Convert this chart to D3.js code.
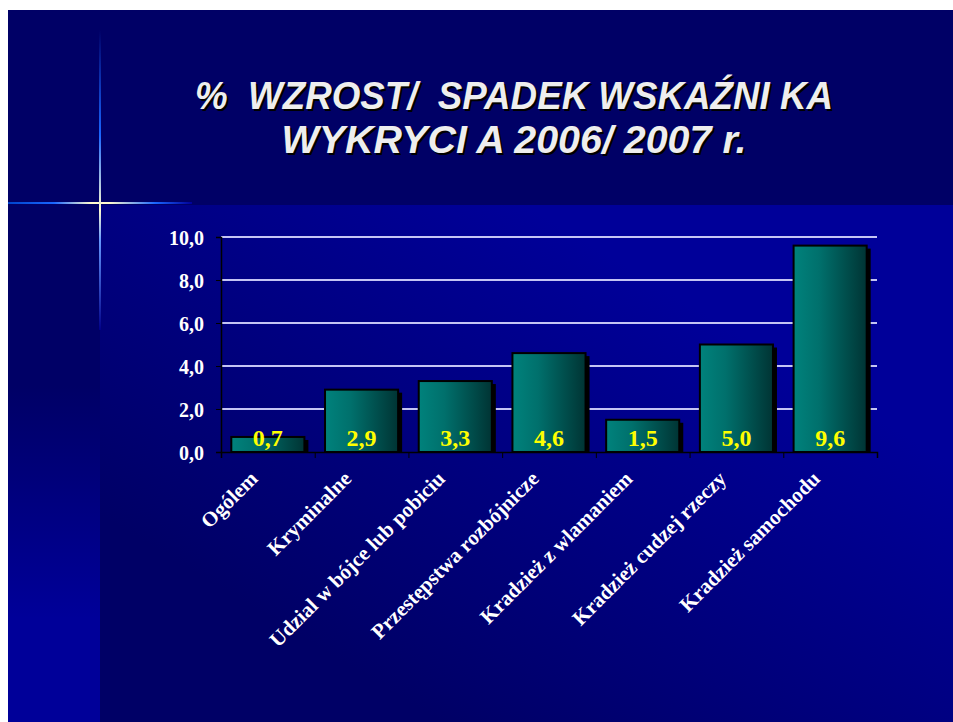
<!DOCTYPE html>
<html>
  <head>
    <meta charset="utf-8">
    <title>Wzrost / spadek wskaznika wykrycia 2006/2007</title>
    <script src="https://d3js.org/d3.v7.min.js"></script>
    <style>
      body { margin: 0; background: #ffffff; }
      svg { display: block; }
    </style>
  </head>
  <body>
    <script>

      // data
      var categories = ["Ogólem", "Kryminalne", "Udzial w bójce lub pobiciu", "Przestępstwa rozbójnicze",
                        "Kradzież z wlamaniem", "Kradzież cudzej rzeczy", "Kradzież samochodu"]
      var values = [0.7, 2.9, 3.3, 4.6, 1.5, 5.0, 9.6]
      var yTicks = [0, 2, 4, 6, 8, 10]
      var titleLines = ["%  WZROST/  SPADEK WSKAŹNI KA", "WYKRYCI A 2006/ 2007 r."]

      var w = 953
      var h = 722

      // plot area
      var plotLeft = 221
      var plotRight = 877
      var plotTop = 237
      var plotBottom = 452

      var svg = d3.select("body")
        .append("svg")
        .attr("width", w)
        .attr("height", h);

      var defs = svg.append("defs")

      // gradients
      var panel = defs.append("linearGradient")
        .attr("id", "panel")
        .attr("x1", 0).attr("y1", 1).attr("x2", 1).attr("y2", 0)
      panel.append("stop").attr("offset", "0.2").attr("stop-color", "#000066")
      panel.append("stop").attr("offset", "0.75").attr("stop-color", "#000099")

      var strip = defs.append("linearGradient")
        .attr("id", "strip")
        .attr("x1", 0).attr("y1", 0).attr("x2", 0).attr("y2", 1)
      strip.append("stop").attr("offset", "0.35").attr("stop-color", "#000066")
      strip.append("stop").attr("offset", "0.8").attr("stop-color", "#000099")

      var bar = defs.append("linearGradient")
        .attr("id", "bar")
        .attr("x1", 0).attr("y1", 0).attr("x2", 1).attr("y2", 0)
      bar.append("stop").attr("offset", "0").attr("stop-color", "#00827c")
      bar.append("stop").attr("offset", "0.35").attr("stop-color", "#00706c")
      bar.append("stop").attr("offset", "1").attr("stop-color", "#003434")

      var hLine = defs.append("linearGradient")
        .attr("id", "hline")
        .attr("x1", 0).attr("y1", 0).attr("x2", 1).attr("y2", 0)
      hLine.append("stop").attr("offset", "0").attr("stop-color", "#0044cc")
      hLine.append("stop").attr("offset", "0.25").attr("stop-color", "#1a66ff")
      hLine.append("stop").attr("offset", "0.45").attr("stop-color", "#fffbd0")
      hLine.append("stop").attr("offset", "0.55").attr("stop-color", "#fffbd0")
      hLine.append("stop").attr("offset", "0.8").attr("stop-color", "#1a66ff")
      hLine.append("stop").attr("offset", "1").attr("stop-color", "#000099")

      var vLine = defs.append("linearGradient")
        .attr("id", "vline")
        .attr("x1", 0).attr("y1", 0).attr("x2", 0).attr("y2", 1)
      vLine.append("stop").attr("offset", "0").attr("stop-color", "#000066")
      vLine.append("stop").attr("offset", "0.35").attr("stop-color", "#1a66ff")
      vLine.append("stop").attr("offset", "0.6").attr("stop-color", "#fffbd0")
      vLine.append("stop").attr("offset", "0.7").attr("stop-color", "#6699ff")
      vLine.append("stop").attr("offset", "1").attr("stop-color", "#000088")

      // background of the slide
      svg.append("rect").attr("x", 8).attr("y", 10).attr("width", w - 8).attr("height", h - 10)
        .attr("fill", "#000066")
      svg.append("rect").attr("x", 100).attr("y", 205).attr("width", w - 100).attr("height", h - 205)
        .attr("fill", "url(#panel)")
      svg.append("rect").attr("x", 8).attr("y", 205).attr("width", 92).attr("height", h - 205)
        .attr("fill", "url(#strip)")

      // the light cross
      svg.append("rect").attr("x", 8).attr("y", 202).attr("width", 184).attr("height", 2)
        .attr("fill", "url(#hline)")
      svg.append("rect").attr("x", 99).attr("y", 30).attr("width", 2).attr("height", 300)
        .attr("fill", "url(#vline)")

      // title with shadow
      titleLines.forEach(function(line, i) {
        var lens = [638, 465]
        var ys = [109, 153]
        ;[["#000000", 2], ["#eeeeee", 0]].forEach(function(s) {
          svg.append("text")
            .attr("x", 514 + s[1])
            .attr("y", ys[i] + s[1])
            .attr("text-anchor", "middle")
            .attr("textLength", lens[i])
            .attr("lengthAdjust", "spacingAndGlyphs")
            .style("white-space", "pre")
            .style("font-family", "'Liberation Sans', Arial, sans-serif")
            .style("font-weight", "bold")
            .style("font-style", "italic")
            .style("font-size", "38px")
            .attr("fill", s[0])
            .text(line)
        })
      })

      // scales
      var y_scale = d3.scaleLinear()
        .domain([0, 10])
        .range([plotBottom, plotTop]);

      var x_scale = d3.scaleBand()
        .domain(categories)
        .range([plotLeft, plotRight])
        .paddingInner(0.22)
        .paddingOuter(0.11);

      var edge_scale = d3.scaleLinear()
        .domain([0, categories.length])
        .range([plotLeft, plotRight]);

      var comma = d3.formatLocale({decimal: ",", thousands: " ", grouping: [3], currency: ["", ""]}).format(".1f")

      // gridlines
      svg.append("g")
        .selectAll("line")
        .data(yTicks.filter(function(d) { return d > 0 }))
        .enter()
        .append("line")
        .attr("x1", plotLeft)
        .attr("x2", plotRight)
        .attr("y1", function(d) { return y_scale(d) })
        .attr("y2", function(d) { return y_scale(d) })
        .attr("stroke", "#c4c4f4")
        .attr("stroke-width", 2)

      // y axis
      var y_axis = svg.append("g")
        .attr("transform", "translate(" + plotLeft + ",0)")
        .call(d3.axisLeft(y_scale).tickValues(yTicks).tickFormat(comma).tickSize(5).tickPadding(12))
      y_axis.select(".domain").attr("stroke", "#000000").attr("stroke-width", 1.5)
      y_axis.selectAll(".tick line").attr("stroke", "#000000")
      y_axis.selectAll("text")
        .attr("fill", "#ffffff")
        .attr("dy", "0.36em")
        .style("font-family", "'Liberation Serif', 'Times New Roman', serif")
        .style("font-weight", "bold")
        .style("font-size", "20px")

      // bar shadows
      svg.append("g")
        .selectAll("rect")
        .data(values)
        .enter()
        .append("rect")
        .attr("x", function(d, i) { return x_scale(categories[i]) + 4 })
        .attr("y", function(d) { return y_scale(d) + 3 })
        .attr("width", x_scale.bandwidth())
        .attr("height", function(d) { return plotBottom - y_scale(d) - 3 })
        .attr("fill", "#000000")

      // bars
      svg.append("g")
        .selectAll("rect")
        .data(values)
        .enter()
        .append("rect")
        .attr("x", function(d, i) { return x_scale(categories[i]) })
        .attr("y", function(d) { return y_scale(d) })
        .attr("width", x_scale.bandwidth())
        .attr("height", function(d) { return plotBottom - y_scale(d) })
        .attr("fill", "url(#bar)")
        .attr("stroke", "#000000")
        .attr("stroke-width", 2)

      // x axis line and ticks at the category edges
      var x_axis = svg.append("g")
        .attr("transform", "translate(0," + plotBottom + ")")
        .call(d3.axisBottom(edge_scale).ticks(categories.length).tickSize(6).tickFormat(""))
      x_axis.select(".domain").attr("stroke", "#000000").attr("stroke-width", 1.5)
      x_axis.selectAll(".tick line").attr("stroke", "#000000")

      // value labels
      svg.append("g")
        .selectAll("text")
        .data(values)
        .enter()
        .append("text")
        .attr("x", function(d, i) { return x_scale(categories[i]) + x_scale.bandwidth() / 2 })
        .attr("y", plotBottom - 6)
        .attr("text-anchor", "middle")
        .attr("fill", "#ffff00")
        .style("font-family", "'Liberation Serif', 'Times New Roman', serif")
        .style("font-weight", "bold")
        .style("font-size", "24px")
        .text(function(d) { return comma(d) })

      // category labels
      svg.append("g")
        .selectAll("text")
        .data(categories)
        .enter()
        .append("text")
        .attr("transform", function(d) {
          return "translate(" + (x_scale(d) + x_scale.bandwidth() / 2 - 9) + "," + (plotBottom + 28) + ") rotate(-45)"
        })
        .attr("text-anchor", "end")
        .attr("fill", "#ffffff")
        .style("font-family", "'Liberation Serif', 'Times New Roman', serif")
        .style("font-weight", "bold")
        .style("font-size", "21px")
        .text(function(d) { return d })

    </script>
  </body>
</html>
